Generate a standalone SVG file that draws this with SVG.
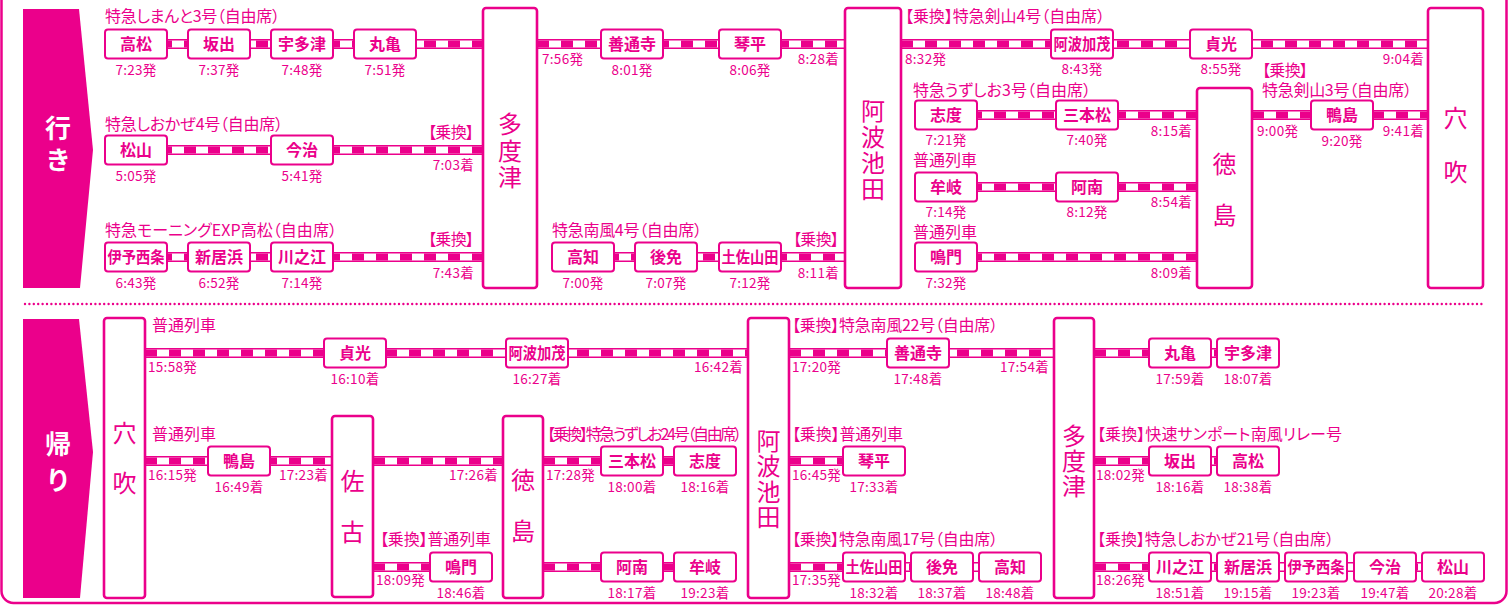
<svg xmlns="http://www.w3.org/2000/svg" xmlns:xlink="http://www.w3.org/1999/xlink" width="1511" height="607" viewBox="0 0 1511 607">
<style>
text{font-family:"Noto Sans CJK JP","Noto Sans",sans-serif;fill:#EB008B}
.fr{fill:none;stroke:#EB008B;stroke-width:2.5}
.tab{fill:#EB008B}
.tabt{fill:#fff;font-size:26px;font-weight:700;text-anchor:middle;writing-mode:vertical-rl}
.sep{stroke:#EB008B;stroke-width:2.4;stroke-linecap:round;stroke-dasharray:0 4.4;fill:none}
.bx rect{fill:#fff;stroke:#EB008B;stroke-width:2}
.bx text{font-size:16px;font-weight:700;text-anchor:middle}
.big rect{fill:#fff;stroke:#EB008B;stroke-width:2.6}
.big text{font-size:24px;text-anchor:middle;writing-mode:vertical-rl}
.rl{font-size:16px;font-feature-settings:"palt"}
.tm{font-size:13.5px;letter-spacing:0.3px}
.c{text-anchor:middle}
.e{text-anchor:end}
.tb{stroke:#EB008B;stroke-width:10;fill:none}
.tw{stroke:#fff;stroke-width:7;fill:none}
.td{stroke:#EB008B;stroke-width:7;stroke-dasharray:12 12;fill:none}
</style>
<defs>
<path id="k1" d="M136 44H483"/>
<path id="k2" d="M537 44H845"/>
<path id="k3" d="M901 44H1428"/>
<path id="k4" d="M136 150H483"/>
<path id="k5" d="M136 257H483"/>
<path id="k6" d="M583 257H845"/>
<path id="k7" d="M946 115H1197"/>
<path id="k8" d="M1252 115H1428"/>
<path id="k9" d="M946 187H1197"/>
<path id="k10" d="M946 257H1197"/>
<path id="k11" d="M145 353H748"/>
<path id="k12" d="M789 353H1054"/>
<path id="k13" d="M1094 353H1248"/>
<path id="k14" d="M145 461H332"/>
<path id="k15" d="M373 461H503"/>
<path id="k16" d="M543 461H705"/>
<path id="k17" d="M789 461H874"/>
<path id="k18" d="M1094 461H1248"/>
<path id="k19" d="M373 567H461"/>
<path id="k20" d="M543 567H705"/>
<path id="k21" d="M789 567H1010"/>
<path id="k22" d="M1094 567H1453"/>
</defs>

<rect class="fr" x="1.5" y="-20" width="1505" height="623" rx="12"/>
<path class="tab" d="M23 9H79L93 150L80 288H23Z"/>
<text class="tabt" x="58" y="147" style="letter-spacing:6px">行き</text>
<path class="tab" d="M23 319H79L93 452L80 598H23Z"/>
<text class="tabt" x="58" y="467" style="letter-spacing:10px">帰り</text>
<path class="sep" d="M25 304H1484"/>

<g id="connectors">
<g class="tb"><use xlink:href="#k1"/><use xlink:href="#k2"/><use xlink:href="#k3"/><use xlink:href="#k4"/><use xlink:href="#k5"/><use xlink:href="#k6"/><use xlink:href="#k7"/><use xlink:href="#k8"/><use xlink:href="#k9"/><use xlink:href="#k10"/><use xlink:href="#k11"/><use xlink:href="#k12"/><use xlink:href="#k13"/><use xlink:href="#k14"/><use xlink:href="#k15"/><use xlink:href="#k16"/><use xlink:href="#k17"/><use xlink:href="#k18"/><use xlink:href="#k19"/><use xlink:href="#k20"/><use xlink:href="#k21"/><use xlink:href="#k22"/></g>
<g class="tw"><use xlink:href="#k1"/><use xlink:href="#k2"/><use xlink:href="#k3"/><use xlink:href="#k4"/><use xlink:href="#k5"/><use xlink:href="#k6"/><use xlink:href="#k7"/><use xlink:href="#k8"/><use xlink:href="#k9"/><use xlink:href="#k10"/><use xlink:href="#k11"/><use xlink:href="#k12"/><use xlink:href="#k13"/><use xlink:href="#k14"/><use xlink:href="#k15"/><use xlink:href="#k16"/><use xlink:href="#k17"/><use xlink:href="#k18"/><use xlink:href="#k19"/><use xlink:href="#k20"/><use xlink:href="#k21"/><use xlink:href="#k22"/></g>
<g class="td"><use xlink:href="#k1"/><use xlink:href="#k2"/><use xlink:href="#k3"/><use xlink:href="#k4"/><use xlink:href="#k5"/><use xlink:href="#k6"/><use xlink:href="#k7"/><use xlink:href="#k8"/><use xlink:href="#k9"/><use xlink:href="#k10"/><use xlink:href="#k11"/><use xlink:href="#k12"/><use xlink:href="#k13"/><use xlink:href="#k14"/><use xlink:href="#k15"/><use xlink:href="#k16"/><use xlink:href="#k17"/><use xlink:href="#k18"/><use xlink:href="#k19"/><use xlink:href="#k20"/><use xlink:href="#k21"/><use xlink:href="#k22"/></g>
</g>

<!-- big stations -->
<g id="tadotsu-1" class="big"><rect x="483" y="8" width="54" height="280" rx="3"/><text x="510" y="151.75" style="letter-spacing:2.5px">多度津</text></g>
<g id="awaikeda-1" class="big"><rect x="845" y="8" width="56" height="280" rx="3"/><text x="873" y="151" style="letter-spacing:2px">阿波池田</text></g>
<g id="tokushima-1" class="big"><rect x="1197" y="88" width="55" height="200" rx="3"/><text x="1224.5" y="203" style="letter-spacing:27px">徳島</text></g>
<g id="anabuki-1" class="big"><rect x="1428" y="8" width="55" height="280" rx="3"/><text x="1455.5" y="160" style="letter-spacing:30px">穴吹</text></g>
<g id="anabuki-2" class="big"><rect x="104" y="318" width="41" height="280" rx="3"/><text x="124.5" y="471" style="letter-spacing:26px">穴吹</text></g>
<g id="sako" class="big"><rect x="332" y="416" width="41" height="181" rx="3"/><text x="352.5" y="520" style="letter-spacing:27px">佐古</text></g>
<g id="tokushima-2" class="big"><rect x="503" y="416" width="40" height="182" rx="3"/><text x="523" y="519" style="letter-spacing:27px">徳島</text></g>
<g id="awaikeda-2" class="big"><rect x="748" y="318" width="41" height="280" rx="3"/><text x="768.5" y="479.6" style="letter-spacing:1.3px">阿波池田</text></g>
<g id="tadotsu-2" class="big"><rect x="1054" y="318" width="40" height="280" rx="3"/><text x="1074" y="461.5" style="letter-spacing:1px">多度津</text></g>

<!-- small stations: top -->
<g id="takamatsu-1" class="bx"><rect x="105" y="29.5" width="62" height="29" rx="3"/><text x="136" y="50">高松</text></g>
<g id="sakaide-1" class="bx"><rect x="188" y="29.5" width="62" height="29" rx="3"/><text x="219" y="50">坂出</text></g>
<g id="utazu-1" class="bx"><rect x="271" y="29.5" width="62" height="29" rx="3"/><text x="302" y="50">宇多津</text></g>
<g id="marugame-1" class="bx"><rect x="354" y="29.5" width="62" height="29" rx="3"/><text x="385" y="50">丸亀</text></g>
<g id="zentsuji-1" class="bx"><rect x="601" y="29.5" width="62" height="29" rx="3"/><text x="632" y="50">善通寺</text></g>
<g id="kotohira-1" class="bx"><rect x="719" y="29.5" width="62" height="29" rx="3"/><text x="750" y="50">琴平</text></g>
<g id="awakamo-1" class="bx"><rect x="1051" y="29.5" width="62" height="29" rx="3"/><text x="1082" y="50" textLength="57" lengthAdjust="spacingAndGlyphs">阿波加茂</text></g>
<g id="sadamitsu-1" class="bx"><rect x="1190" y="29.5" width="62" height="29" rx="3"/><text x="1221" y="50">貞光</text></g>
<g id="matsuyama-1" class="bx"><rect x="105" y="135.5" width="62" height="29" rx="3"/><text x="136" y="156">松山</text></g>
<g id="imabari-1" class="bx"><rect x="271" y="135.5" width="62" height="29" rx="3"/><text x="302" y="156">今治</text></g>
<g id="iyosaijo-1" class="bx"><rect x="105" y="242.5" width="62" height="29" rx="3"/><text x="136" y="263" textLength="57" lengthAdjust="spacingAndGlyphs">伊予西条</text></g>
<g id="niihama-1" class="bx"><rect x="188" y="242.5" width="62" height="29" rx="3"/><text x="219" y="263">新居浜</text></g>
<g id="kawanoe-1" class="bx"><rect x="271" y="242.5" width="62" height="29" rx="3"/><text x="302" y="263">川之江</text></g>
<g id="kochi-1" class="bx"><rect x="552" y="242.5" width="62" height="29" rx="3"/><text x="583" y="263">高知</text></g>
<g id="gomen-1" class="bx"><rect x="635" y="242.5" width="62" height="29" rx="3"/><text x="666" y="263">後免</text></g>
<g id="tosayamada-1" class="bx"><rect x="719" y="242.5" width="62" height="29" rx="3"/><text x="750" y="263" textLength="57" lengthAdjust="spacingAndGlyphs">土佐山田</text></g>
<g id="shido-1" class="bx"><rect x="915" y="100.5" width="62" height="29" rx="3"/><text x="946" y="121">志度</text></g>
<g id="sanbonmatsu-1" class="bx"><rect x="1056" y="100.5" width="62" height="29" rx="3"/><text x="1087" y="121">三本松</text></g>
<g id="kamojima-1" class="bx"><rect x="1311" y="100.5" width="62" height="29" rx="3"/><text x="1342" y="121">鴨島</text></g>
<g id="mugi-1" class="bx"><rect x="915" y="172.5" width="62" height="29" rx="3"/><text x="946" y="193">牟岐</text></g>
<g id="anan-1" class="bx"><rect x="1056" y="172.5" width="62" height="29" rx="3"/><text x="1087" y="193">阿南</text></g>
<g id="naruto-1" class="bx"><rect x="915" y="242.5" width="62" height="29" rx="3"/><text x="946" y="263">鳴門</text></g>

<!-- small stations: bottom -->
<g id="sadamitsu-2" class="bx"><rect x="324" y="338.5" width="62" height="29" rx="3"/><text x="355" y="359">貞光</text></g>
<g id="awakamo-2" class="bx"><rect x="506" y="338.5" width="62" height="29" rx="3"/><text x="537" y="359" textLength="57" lengthAdjust="spacingAndGlyphs">阿波加茂</text></g>
<g id="zentsuji-2" class="bx"><rect x="887" y="338.5" width="62" height="29" rx="3"/><text x="918" y="359">善通寺</text></g>
<g id="marugame-2" class="bx"><rect x="1149" y="338.5" width="62" height="29" rx="3"/><text x="1180" y="359">丸亀</text></g>
<g id="utazu-2" class="bx"><rect x="1217" y="338.5" width="62" height="29" rx="3"/><text x="1248" y="359">宇多津</text></g>
<g id="kamojima-2" class="bx"><rect x="208" y="446.5" width="62" height="29" rx="3"/><text x="239" y="467">鴨島</text></g>
<g id="sanbonmatsu-2" class="bx"><rect x="601" y="446.5" width="62" height="29" rx="3"/><text x="632" y="467">三本松</text></g>
<g id="shido-2" class="bx"><rect x="674" y="446.5" width="62" height="29" rx="3"/><text x="705" y="467">志度</text></g>
<g id="kotohira-2" class="bx"><rect x="843" y="446.5" width="62" height="29" rx="3"/><text x="874" y="467">琴平</text></g>
<g id="sakaide-2" class="bx"><rect x="1149" y="446.5" width="62" height="29" rx="3"/><text x="1180" y="467">坂出</text></g>
<g id="takamatsu-2" class="bx"><rect x="1217" y="446.5" width="62" height="29" rx="3"/><text x="1248" y="467">高松</text></g>
<g id="naruto-2" class="bx"><rect x="430" y="552.5" width="62" height="29" rx="3"/><text x="461" y="573">鳴門</text></g>
<g id="anan-2" class="bx"><rect x="601" y="552.5" width="62" height="29" rx="3"/><text x="632" y="573">阿南</text></g>
<g id="mugi-2" class="bx"><rect x="674" y="552.5" width="62" height="29" rx="3"/><text x="705" y="573">牟岐</text></g>
<g id="tosayamada-2" class="bx"><rect x="843" y="552.5" width="62" height="29" rx="3"/><text x="874" y="573" textLength="57" lengthAdjust="spacingAndGlyphs">土佐山田</text></g>
<g id="gomen-2" class="bx"><rect x="911" y="552.5" width="62" height="29" rx="3"/><text x="942" y="573">後免</text></g>
<g id="kochi-2" class="bx"><rect x="979" y="552.5" width="62" height="29" rx="3"/><text x="1010" y="573">高知</text></g>
<g id="kawanoe-2" class="bx"><rect x="1149" y="552.5" width="62" height="29" rx="3"/><text x="1180" y="573">川之江</text></g>
<g id="niihama-2" class="bx"><rect x="1217" y="552.5" width="62" height="29" rx="3"/><text x="1248" y="573">新居浜</text></g>
<g id="iyosaijo-2" class="bx"><rect x="1285" y="552.5" width="62" height="29" rx="3"/><text x="1316" y="573" textLength="57" lengthAdjust="spacingAndGlyphs">伊予西条</text></g>
<g id="imabari-2" class="bx"><rect x="1354" y="552.5" width="62" height="29" rx="3"/><text x="1385" y="573">今治</text></g>
<g id="matsuyama-2" class="bx"><rect x="1422" y="552.5" width="62" height="29" rx="3"/><text x="1453" y="573">松山</text></g>

<!-- route labels -->
<g id="route-labels">
<text class="rl" x="105" y="22" textLength="175">特急しまんと3号（自由席）</text>
<text class="rl" x="905" y="22" textLength="200">【乗換】特急剣山4号（自由席）</text>
<text class="rl" x="105" y="130" textLength="178">特急しおかぜ4号（自由席）</text>
<text class="rl e" x="474" y="138" textLength="46">【乗換】</text>
<text class="rl" x="105" y="236" textLength="232">特急モーニングEXP高松（自由席）</text>
<text class="rl e" x="474" y="245" textLength="46">【乗換】</text>
<text class="rl" x="552" y="236" textLength="150">特急南風4号（自由席）</text>
<text class="rl e" x="839" y="245" textLength="46">【乗換】</text>
<text class="rl" x="913" y="96" textLength="178">特急うずしお3号（自由席）</text>
<text class="rl"><tspan x="1262" y="76" textLength="46">【乗換】</tspan><tspan x="1262" y="96" textLength="150">特急剣山3号（自由席）</tspan></text>
<text class="rl" x="913" y="166">普通列車</text>
<text class="rl" x="913" y="238">普通列車</text>
<text class="rl" x="152" y="331">普通列車</text>
<text class="rl" x="792" y="331" textLength="206">【乗換】特急南風22号（自由席）</text>
<text class="rl" x="152" y="440">普通列車</text>
<text class="rl" x="547" y="440" textLength="195">【乗換】特急うずしお24号（自由席）</text>
<text class="rl" x="792" y="440" textLength="111">【乗換】普通列車</text>
<text class="rl" x="1097" y="440" textLength="245">【乗換】快速サンポート南風リレー号</text>
<text class="rl" x="380" y="545" textLength="111">【乗換】普通列車</text>
<text class="rl" x="792" y="545" textLength="206">【乗換】特急南風17号（自由席）</text>
<text class="rl" x="1097" y="545" textLength="237">【乗換】特急しおかぜ21号（自由席）</text>
</g>

<!-- times -->
<g id="times" class="tm">
<text class="tm c" x="136" y="75">7:23発</text>
<text class="tm c" x="219" y="75">7:37発</text>
<text class="tm c" x="302" y="75">7:48発</text>
<text class="tm c" x="385" y="75">7:51発</text>
<text class="tm" x="542" y="64">7:56発</text>
<text class="tm c" x="632" y="75">8:01発</text>
<text class="tm c" x="750" y="75">8:06発</text>
<text class="tm e" x="839" y="64">8:28着</text>
<text class="tm" x="905" y="64">8:32発</text>
<text class="tm c" x="1082" y="74">8:43発</text>
<text class="tm c" x="1221" y="74">8:55発</text>
<text class="tm e" x="1424" y="64">9:04着</text>
<text class="tm c" x="136" y="181">5:05発</text>
<text class="tm c" x="302" y="181">5:41発</text>
<text class="tm e" x="474" y="170">7:03着</text>
<text class="tm c" x="136" y="288">6:43発</text>
<text class="tm c" x="219" y="288">6:52発</text>
<text class="tm c" x="302" y="288">7:14発</text>
<text class="tm e" x="474" y="278">7:43着</text>
<text class="tm c" x="583" y="288">7:00発</text>
<text class="tm c" x="666" y="288">7:07発</text>
<text class="tm c" x="750" y="288">7:12発</text>
<text class="tm e" x="839" y="278">8:11着</text>
<text class="tm c" x="946" y="145">7:21発</text>
<text class="tm c" x="1087" y="145">7:40発</text>
<text class="tm e" x="1192" y="136">8:15着</text>
<text class="tm" x="1257" y="136">9:00発</text>
<text class="tm c" x="1342" y="146">9:20発</text>
<text class="tm e" x="1424" y="136">9:41着</text>
<text class="tm c" x="946" y="217">7:14発</text>
<text class="tm c" x="1087" y="217">8:12発</text>
<text class="tm e" x="1192" y="207">8:54着</text>
<text class="tm c" x="946" y="288">7:32発</text>
<text class="tm e" x="1192" y="278">8:09着</text>
<text class="tm" x="148" y="372">15:58発</text>
<text class="tm c" x="355" y="384">16:10着</text>
<text class="tm c" x="537" y="384">16:27着</text>
<text class="tm e" x="743" y="372">16:42着</text>
<text class="tm" x="792" y="372">17:20発</text>
<text class="tm c" x="918" y="384">17:48着</text>
<text class="tm e" x="1049" y="372">17:54着</text>
<text class="tm c" x="1180" y="384">17:59着</text>
<text class="tm c" x="1248" y="384">18:07着</text>
<text class="tm" x="148" y="480">16:15発</text>
<text class="tm c" x="239" y="492">16:49着</text>
<text class="tm e" x="328" y="480">17:23着</text>
<text class="tm e" x="498" y="480">17:26着</text>
<text class="tm" x="546" y="480">17:28発</text>
<text class="tm c" x="632" y="492">18:00着</text>
<text class="tm c" x="705" y="492">18:16着</text>
<text class="tm" x="792" y="480">16:45発</text>
<text class="tm c" x="874" y="492">17:33着</text>
<text class="tm" x="1096" y="480">18:02発</text>
<text class="tm c" x="1180" y="492">18:16着</text>
<text class="tm c" x="1248" y="492">18:38着</text>
<text class="tm" x="376" y="585">18:09発</text>
<text class="tm c" x="461" y="598">18:46着</text>
<text class="tm c" x="632" y="598">18:17着</text>
<text class="tm c" x="705" y="598">19:23着</text>
<text class="tm" x="792" y="585">17:35発</text>
<text class="tm c" x="874" y="598">18:32着</text>
<text class="tm c" x="942" y="598">18:37着</text>
<text class="tm c" x="1010" y="598">18:48着</text>
<text class="tm" x="1096" y="585">18:26発</text>
<text class="tm c" x="1180" y="598">18:51着</text>
<text class="tm c" x="1248" y="598">19:15着</text>
<text class="tm c" x="1316" y="598">19:23着</text>
<text class="tm c" x="1385" y="598">19:47着</text>
<text class="tm c" x="1453" y="598">20:28着</text>
</g>
</svg>
